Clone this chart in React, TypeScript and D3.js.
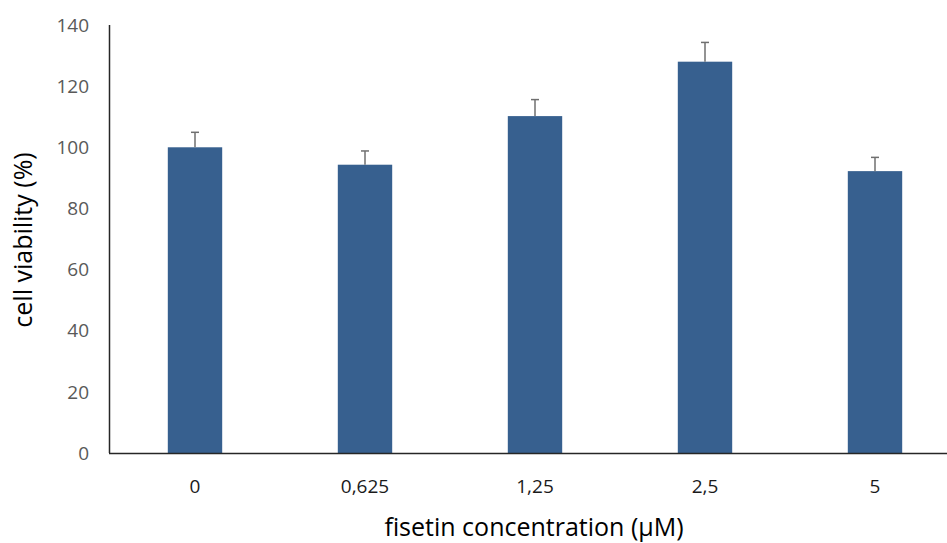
import React from "react";
import * as d3 from "d3";

const categories = ["0", "0,625", "1,25", "2,5", "5"];
const values = [100, 94.3, 110.2, 128, 92.2];
const errors = [4.9, 4.5, 5.4, 6.3, 4.5];
const yTicks = [0, 20, 40, 60, 80, 100, 120, 140];

const W = 947;
const H = 543;
const FONT = "'Open Sans', sans-serif";

export default function App() {
  const x = d3
    .scaleBand<string>()
    .domain(categories)
    .range([110, 960])
    .paddingInner(0.68)
    .paddingOuter(0.34);
  const y = d3.scaleLinear().domain([0, 140]).range([453, 25]);
  const bw = x.bandwidth();

  return (
    <svg
      width={W}
      height={H}
      style={{ position: "absolute", left: 0, top: 0, background: "#fff" }}
      fontFamily={FONT}
    >
      {/* bars */}
      {categories.map((c, i) => (
        <rect
          key={c}
          x={x(c)!}
          y={y(values[i])}
          width={bw}
          height={y(0) - y(values[i])}
          fill="#37608f"
        />
      ))}
      {/* error bars */}
      {categories.map((c, i) => {
        const cx = x(c)! + bw / 2;
        const top = y(values[i] + errors[i]);
        return (
          <g key={"e" + c} stroke="#6f6f6f" strokeWidth={1.5}>
            <line x1={cx} x2={cx} y1={y(values[i])} y2={top} />
            <line x1={cx - 4} x2={cx + 4} y1={top} y2={top} />
          </g>
        );
      })}
      {/* axes */}
      <line x1={109.5} x2={109.5} y1={y(140)} y2={y(0)} stroke="#262626" strokeWidth={1.5} />
      <line x1={109} x2={W} y1={y(0) + 0.5} y2={y(0) + 0.5} stroke="#262626" strokeWidth={1.5} />
      {/* y tick labels */}
      {yTicks.map((t) => (
        <text
          key={t}
          x={89}
          y={y(t)}
          dy="0.35em"
          textAnchor="end"
          fontSize={19}
          fill="#595959"
        >
          {t}
        </text>
      ))}
      {/* x tick labels */}
      {categories.map((c) => (
        <text
          key={"x" + c}
          x={x(c)! + bw / 2}
          y={486}
          dy="0.35em"
          textAnchor="middle"
          fontSize={19}
          fill="#1a1a1a"
        >
          {c}
        </text>
      ))}
      {/* axis titles */}
      <text x={534} y={536} textAnchor="middle" fontSize={25} fill="#000">
        fisetin concentration (µM)
      </text>
      <text
        transform={`translate(32, 240) rotate(-90)`}
        textAnchor="middle"
        fontSize={25}
        fill="#000"
      >
        cell viability (%)
      </text>
    </svg>
  );
}
